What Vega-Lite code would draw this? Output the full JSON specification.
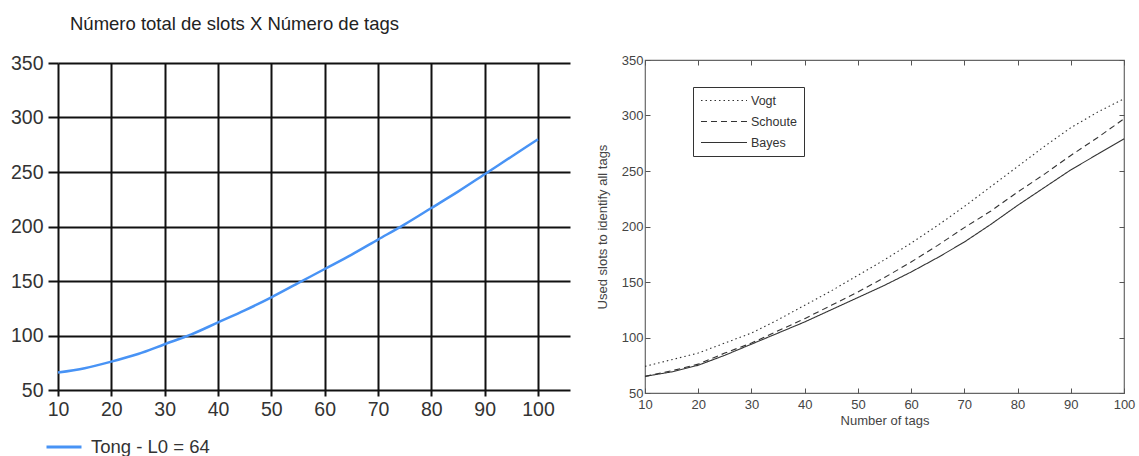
{
  "$schema": "https://vega.github.io/schema/vega-lite/v6.json",
  "background": "white",
  "padding": {"left": 10, "top": 14, "right": 8, "bottom": 2},
  "bounds": "flush",
  "center": true,
  "spacing": 75,
  "config": {"view": {"stroke": null}, "font": "Liberation Sans"},
  "hconcat": [
    {
      "width": 512,
      "height": 327,
      "title": {"text": "Número total de slots X Número de tags", "anchor": "start", "frame": "group", "fontSize": 18.5, "fontWeight": "normal", "color": "#222", "offset": 20, "dx": 12, "font": "Liberation Sans"},
      "data": {"values": [
        {"tags": 10, "slots": 66, "series": "Tong - L0 = 64"},
        {"tags": 15, "slots": 70, "series": "Tong - L0 = 64"},
        {"tags": 20, "slots": 76, "series": "Tong - L0 = 64"},
        {"tags": 25, "slots": 83, "series": "Tong - L0 = 64"},
        {"tags": 30, "slots": 92, "series": "Tong - L0 = 64"},
        {"tags": 35, "slots": 101, "series": "Tong - L0 = 64"},
        {"tags": 40, "slots": 112, "series": "Tong - L0 = 64"},
        {"tags": 45, "slots": 123, "series": "Tong - L0 = 64"},
        {"tags": 50, "slots": 135, "series": "Tong - L0 = 64"},
        {"tags": 55, "slots": 148, "series": "Tong - L0 = 64"},
        {"tags": 60, "slots": 161, "series": "Tong - L0 = 64"},
        {"tags": 65, "slots": 174, "series": "Tong - L0 = 64"},
        {"tags": 70, "slots": 188, "series": "Tong - L0 = 64"},
        {"tags": 75, "slots": 202, "series": "Tong - L0 = 64"},
        {"tags": 80, "slots": 217, "series": "Tong - L0 = 64"},
        {"tags": 85, "slots": 232, "series": "Tong - L0 = 64"},
        {"tags": 90, "slots": 248, "series": "Tong - L0 = 64"},
        {"tags": 95, "slots": 264, "series": "Tong - L0 = 64"},
        {"tags": 100, "slots": 280, "series": "Tong - L0 = 64"}
      ]},
      "mark": {"type": "line", "strokeWidth": 2.5, "interpolate": "monotone"},
      "encoding": {
        "x": {"field": "tags", "type": "quantitative",
          "scale": {"domain": [10, 106], "nice": false, "zero": false},
          "axis": {"values": [10, 20, 30, 40, 50, 60, 70, 80, 90, 100], "title": null, "grid": true, "gridColor": "#111", "gridWidth": 2, "domain": false, "tickColor": "#111", "tickWidth": 2, "tickSize": 6, "labelFontSize": 19.5, "labelColor": "#333", "labelPadding": 4, "labelFlush": false, "labelFont": "Liberation Sans"}},
        "y": {"field": "slots", "type": "quantitative",
          "scale": {"domain": [50, 350], "nice": false, "zero": false},
          "axis": {"values": [50, 100, 150, 200, 250, 300, 350], "title": null, "grid": true, "gridColor": "#111", "gridWidth": 2, "domain": false, "tickColor": "#111", "tickWidth": 2, "tickSize": 10, "labelFontSize": 19.5, "labelColor": "#333", "labelPadding": 5, "labelFlush": false, "labelFont": "Liberation Sans"}},
        "color": {"field": "series", "type": "nominal", "scale": {"range": ["#4893f5"]},
          "legend": {"title": null, "orient": "none", "legendX": -13, "legendY": 368, "symbolType": "stroke", "symbolStrokeWidth": 3, "symbolSize": 1225, "labelFontSize": 18.5, "labelColor": "#333", "labelFont": "Liberation Sans", "labelOffset": 8}}
      }
    },
    {
      "width": 479,
      "height": 333,
      "view": {"stroke": "#666", "strokeWidth": 1.2},
      "data": {"values": [
        {"tags": 10, "slots": 74, "series": "Vogt"},
        {"tags": 15, "slots": 80, "series": "Vogt"},
        {"tags": 20, "slots": 86, "series": "Vogt"},
        {"tags": 25, "slots": 95, "series": "Vogt"},
        {"tags": 30, "slots": 104, "series": "Vogt"},
        {"tags": 35, "slots": 116, "series": "Vogt"},
        {"tags": 40, "slots": 129, "series": "Vogt"},
        {"tags": 45, "slots": 142, "series": "Vogt"},
        {"tags": 50, "slots": 156, "series": "Vogt"},
        {"tags": 55, "slots": 170, "series": "Vogt"},
        {"tags": 60, "slots": 185, "series": "Vogt"},
        {"tags": 65, "slots": 201, "series": "Vogt"},
        {"tags": 70, "slots": 218, "series": "Vogt"},
        {"tags": 75, "slots": 236, "series": "Vogt"},
        {"tags": 80, "slots": 254, "series": "Vogt"},
        {"tags": 85, "slots": 272, "series": "Vogt"},
        {"tags": 90, "slots": 289, "series": "Vogt"},
        {"tags": 95, "slots": 303, "series": "Vogt"},
        {"tags": 100, "slots": 315, "series": "Vogt"},
        {"tags": 10, "slots": 65, "series": "Schoute"},
        {"tags": 15, "slots": 70, "series": "Schoute"},
        {"tags": 20, "slots": 76, "series": "Schoute"},
        {"tags": 25, "slots": 86, "series": "Schoute"},
        {"tags": 30, "slots": 95, "series": "Schoute"},
        {"tags": 35, "slots": 106, "series": "Schoute"},
        {"tags": 40, "slots": 117, "series": "Schoute"},
        {"tags": 45, "slots": 129, "series": "Schoute"},
        {"tags": 50, "slots": 141, "series": "Schoute"},
        {"tags": 55, "slots": 154, "series": "Schoute"},
        {"tags": 60, "slots": 168, "series": "Schoute"},
        {"tags": 65, "slots": 183, "series": "Schoute"},
        {"tags": 70, "slots": 199, "series": "Schoute"},
        {"tags": 75, "slots": 214, "series": "Schoute"},
        {"tags": 80, "slots": 231, "series": "Schoute"},
        {"tags": 85, "slots": 247, "series": "Schoute"},
        {"tags": 90, "slots": 264, "series": "Schoute"},
        {"tags": 95, "slots": 280, "series": "Schoute"},
        {"tags": 100, "slots": 297, "series": "Schoute"},
        {"tags": 10, "slots": 65, "series": "Bayes"},
        {"tags": 15, "slots": 69, "series": "Bayes"},
        {"tags": 20, "slots": 75, "series": "Bayes"},
        {"tags": 25, "slots": 84, "series": "Bayes"},
        {"tags": 30, "slots": 94, "series": "Bayes"},
        {"tags": 35, "slots": 104, "series": "Bayes"},
        {"tags": 40, "slots": 114, "series": "Bayes"},
        {"tags": 45, "slots": 125, "series": "Bayes"},
        {"tags": 50, "slots": 136, "series": "Bayes"},
        {"tags": 55, "slots": 147, "series": "Bayes"},
        {"tags": 60, "slots": 159, "series": "Bayes"},
        {"tags": 65, "slots": 172, "series": "Bayes"},
        {"tags": 70, "slots": 186, "series": "Bayes"},
        {"tags": 75, "slots": 202, "series": "Bayes"},
        {"tags": 80, "slots": 219, "series": "Bayes"},
        {"tags": 85, "slots": 235, "series": "Bayes"},
        {"tags": 90, "slots": 251, "series": "Bayes"},
        {"tags": 95, "slots": 265, "series": "Bayes"},
        {"tags": 100, "slots": 279, "series": "Bayes"}
      ]},
      "resolve": {"axis": {"x": "independent", "y": "independent"}},
      "layer": [
        {
          "mark": {"type": "line", "color": "#333", "strokeWidth": 1.1},
          "encoding": {
            "x": {"field": "tags", "type": "quantitative",
              "scale": {"domain": [10, 100], "nice": false, "zero": false},
              "axis": {"orient": "bottom", "values": [10, 20, 30, 40, 50, 60, 70, 80, 90, 100], "title": "Number of tags", "titleFontSize": 13, "titleFontWeight": "normal", "titleColor": "#444", "titlePadding": 3, "grid": false, "domain": false, "tickColor": "#555", "tickSize": -5, "labelFontSize": 13, "labelColor": "#444", "labelPadding": 10, "labelFlush": false}},
            "y": {"field": "slots", "type": "quantitative",
              "scale": {"domain": [50, 350], "nice": false, "zero": false},
              "axis": {"orient": "left", "values": [50, 100, 150, 200, 250, 300, 350], "title": "Used slots to identify all tags", "titleFontSize": 13, "titleFontWeight": "normal", "titleColor": "#444", "titlePadding": 12, "grid": false, "domain": false, "tickColor": "#555", "tickSize": -5, "labelFontSize": 13, "labelColor": "#444", "labelPadding": 7, "labelFlush": false}},
            "strokeDash": {"field": "series", "type": "nominal",
              "scale": {"domain": ["Vogt", "Schoute", "Bayes"], "range": [[1.5, 3], [6, 4], [1, 0]]},
              "legend": {"title": null, "orient": "none", "legendX": 635, "legendY": 27, "strokeColor": "#333", "fillColor": "white", "padding": 7, "symbolType": "stroke", "symbolStrokeColor": "#333", "symbolStrokeWidth": 1.1, "symbolSize": 2116, "clipHeight": 13, "labelFontSize": 12.5, "labelColor": "#333", "labelOffset": 3, "rowPadding": 8}}
          }
        },
        {
          "mark": {"type": "line", "opacity": 0},
          "encoding": {
            "x": {"field": "tags", "type": "quantitative",
              "axis": {"orient": "top", "values": [10, 20, 30, 40, 50, 60, 70, 80, 90, 100], "title": null, "labels": false, "grid": false, "domain": false, "tickColor": "#555", "tickSize": -5}},
            "y": {"field": "slots", "type": "quantitative",
              "axis": {"orient": "right", "values": [50, 100, 150, 200, 250, 300, 350], "title": null, "labels": false, "grid": false, "domain": false, "tickColor": "#555", "tickSize": -5}},
            "detail": {"field": "series", "type": "nominal"}
          }
        }
      ]
    }
  ]
}
